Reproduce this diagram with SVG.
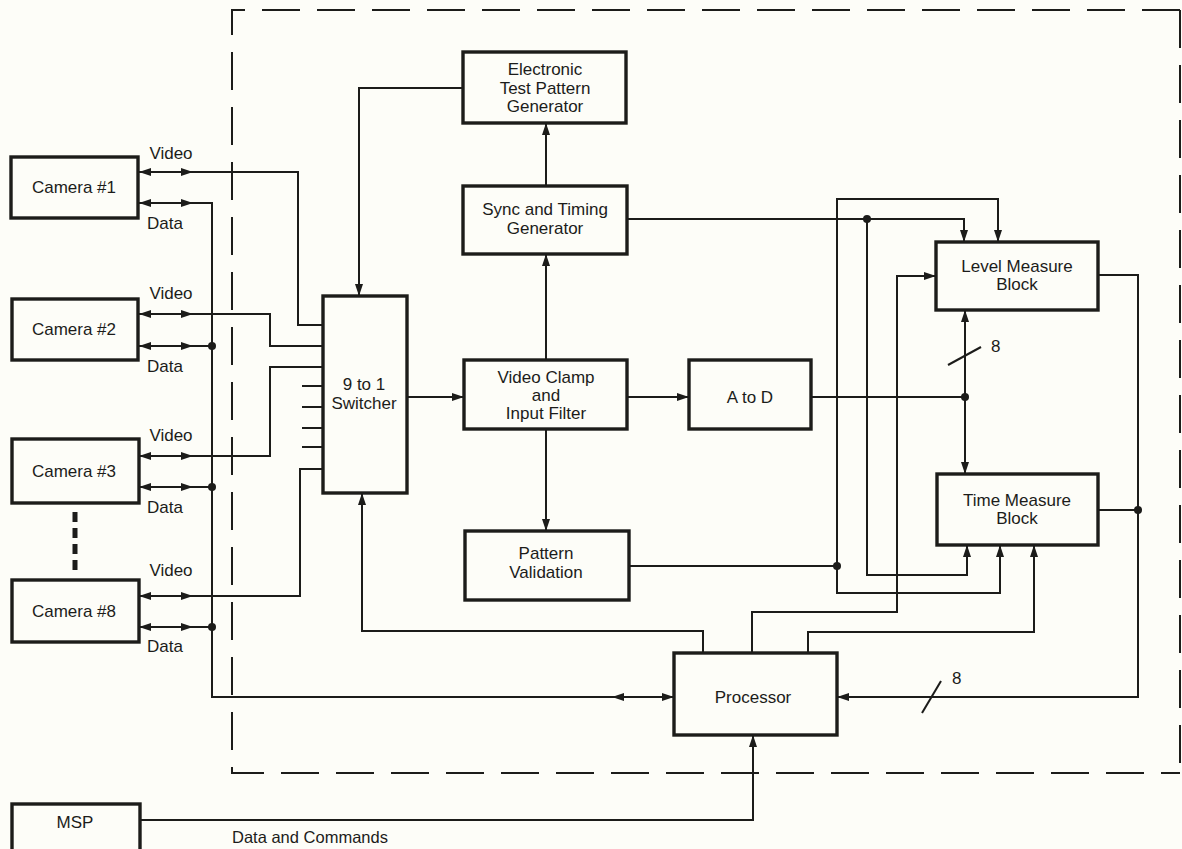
<svg xmlns="http://www.w3.org/2000/svg" width="1182" height="849" viewBox="0 0 1182 849">
<style>
.bg{fill:#fdfdf8}
.box{fill:none;stroke:#1c1c1a;stroke-width:3.4}
.ln{fill:none;stroke:#1c1c1a;stroke-width:2}
.arr{marker-end:url(#ah)}
.dbl{marker-start:url(#ah);marker-end:url(#ah)}
.dot{fill:#1c1c1a}
.dash{fill:none;stroke:#1c1c1a;stroke-width:2;stroke-dasharray:38 17}
.t{font-family:"Liberation Sans",Arial,sans-serif;font-size:17px;fill:#1c1c1a;text-anchor:middle}
.l{font-family:"Liberation Sans",Arial,sans-serif;font-size:17px;fill:#1c1c1a}
</style>
<defs>
<marker id="ah" viewBox="0 0 12 8" refX="12" refY="4" markerWidth="12" markerHeight="8" orient="auto-start-reverse" markerUnits="userSpaceOnUse"><path d="M0,0 L12,4 L0,8 Z" fill="#1c1c1a"/></marker>
</defs>
<rect class="bg" x="0" y="0" width="1182" height="849"/>
<path class="dash" d="M1180,10 H232 V773 H1180"/>
<path class="dash" d="M1180,10 V773"/>

<g id="connectors">
<!-- camera 1 -->
<path class="ln dbl" d="M139,172 H193"/>
<path class="ln" d="M193,172 H298 V325 H323"/>
<path class="ln dbl" d="M139,203 H193"/>
<path class="ln" d="M193,203 H212 V697 H612"/>
<!-- camera 2 -->
<path class="ln dbl" d="M139,314 H193"/>
<path class="ln" d="M193,314 H270 V346 H323"/>
<path class="ln dbl" d="M139,346 H193"/>
<path class="ln" d="M193,346 H212"/>
<!-- camera 3 -->
<path class="ln dbl" d="M139,456 H193"/>
<path class="ln" d="M193,456 H270 V367 H323"/>
<path class="ln dbl" d="M139,487 H193"/>
<path class="ln" d="M193,487 H212"/>
<!-- camera 8 -->
<path class="ln dbl" d="M139,596 H193"/>
<path class="ln" d="M193,596 H300 V469 H323"/>
<path class="ln dbl" d="M139,627 H193"/>
<path class="ln" d="M193,627 H212"/>
<!-- switcher stubs -->
<path class="ln" d="M302,386 H323 M302,407 H323 M302,428 H323 M302,447 H323"/>
<!-- data bus to processor -->
<path class="ln dbl" d="M612,697 H674"/>
<!-- ETPG to switcher -->
<path class="ln arr" d="M463,88 H359 V296"/>
<!-- processor to switcher -->
<path class="ln arr" d="M703,653 V631 H362 V493"/>
<!-- main chain -->
<path class="ln arr" d="M407,397 H464"/>
<path class="ln arr" d="M627,397 H689"/>
<path class="ln arr" d="M546,360 V254"/>
<path class="ln arr" d="M546,186 V123"/>
<path class="ln arr" d="M546,429 V531"/>
<!-- A to D bus -->
<path class="ln" d="M811,397 H965"/>
<path class="ln arr" d="M965,397 V310"/>
<path class="ln arr" d="M965,397 V474"/>
<path class="ln" d="M948,365 L981,347"/>
<!-- sync -->
<path class="ln arr" d="M627,219 H964 V242"/>
<path class="ln arr" d="M867,219 V575 H967 V545"/>
<!-- pattern validation -->
<path class="ln" d="M629,566 H837"/>
<path class="ln arr" d="M837,566 V199 H998 V242"/>
<path class="ln arr" d="M837,566 V593 H1000 V545"/>
<!-- processor to measures -->
<path class="ln arr" d="M752,653 V612 H897 V276 H936"/>
<path class="ln arr" d="M808,653 V632 H1034 V545"/>
<!-- measures to processor -->
<path class="ln arr" d="M1098,275 H1138 V697 H837"/>
<path class="ln" d="M1098,510 H1138"/>
<path class="ln" d="M922,713 L941,681"/>
<!-- MSP to processor -->
<path class="ln arr" d="M140,820 H753 V735"/>
<!-- dots -->
<circle class="dot" cx="212" cy="346" r="4"/>
<circle class="dot" cx="212" cy="487" r="4"/>
<circle class="dot" cx="212" cy="627" r="4"/>
<circle class="dot" cx="867" cy="219" r="4"/>
<circle class="dot" cx="965" cy="397" r="4"/>
<circle class="dot" cx="837" cy="566" r="4"/>
<circle class="dot" cx="1138" cy="510" r="4"/>
<text class="l" x="991" y="352">8</text>
<text class="l" x="952" y="684">8</text>
</g>

<g id="camera1">
<rect class="box" x="11" y="157" width="127" height="61"/>
<text class="t" x="74" y="193">Camera #1</text>
<text class="t" x="171" y="159">Video</text>
<text class="t" x="165" y="229">Data</text>
</g>
<g id="camera2">
<rect class="box" x="12" y="299" width="126" height="61"/>
<text class="t" x="74" y="335">Camera #2</text>
<text class="t" x="171" y="299">Video</text>
<text class="t" x="165" y="372">Data</text>
</g>
<g id="camera3">
<rect class="box" x="12" y="439" width="127" height="64"/>
<text class="t" x="74" y="477">Camera #3</text>
<text class="t" x="171" y="441">Video</text>
<text class="t" x="165" y="513">Data</text>
</g>
<path d="M75,512 V572" stroke="#1c1c1a" stroke-width="5" stroke-dasharray="10 6" fill="none"/>
<g id="camera8">
<rect class="box" x="12" y="580" width="127" height="62"/>
<text class="t" x="74" y="617">Camera #8</text>
<text class="t" x="171" y="576">Video</text>
<text class="t" x="165" y="652">Data</text>
</g>
<g id="switcher">
<rect class="box" x="323" y="296" width="84" height="197"/>
<text class="t" x="364" y="390">9 to 1</text>
<text class="t" x="364" y="409">Switcher</text>
</g>
<g id="etpg">
<rect class="box" x="463" y="52" width="163" height="71"/>
<text class="t" x="545" y="75">Electronic</text>
<text class="t" x="545" y="94">Test Pattern</text>
<text class="t" x="545" y="112">Generator</text>
</g>
<g id="sync">
<rect class="box" x="463" y="186" width="164" height="68"/>
<text class="t" x="545" y="215">Sync and Timing</text>
<text class="t" x="545" y="234">Generator</text>
</g>
<g id="clamp">
<rect class="box" x="464" y="360" width="163" height="69"/>
<text class="t" x="546" y="383">Video Clamp</text>
<text class="t" x="546" y="401">and</text>
<text class="t" x="546" y="419">Input Filter</text>
</g>
<g id="atod">
<rect class="box" x="689" y="360" width="122" height="69"/>
<text class="t" x="750" y="403">A to D</text>
</g>
<g id="pattern">
<rect class="box" x="465" y="531" width="164" height="69"/>
<text class="t" x="546" y="559">Pattern</text>
<text class="t" x="546" y="578">Validation</text>
</g>
<g id="level">
<rect class="box" x="936" y="242" width="162" height="68"/>
<text class="t" x="1017" y="272">Level Measure</text>
<text class="t" x="1017" y="290">Block</text>
</g>
<g id="time">
<rect class="box" x="937" y="474" width="161" height="71"/>
<text class="t" x="1017" y="506">Time Measure</text>
<text class="t" x="1017" y="524">Block</text>
</g>
<g id="processor">
<rect class="box" x="674" y="653" width="163" height="82"/>
<text class="t" x="753" y="703">Processor</text>
</g>
<g id="msp">
<rect class="box" x="12" y="804" width="128" height="50"/>
<text class="t" x="75" y="828">MSP</text>
<text class="l" x="232" y="843" style="font-size:16.5px">Data and Commands</text>
</g>
</svg>
